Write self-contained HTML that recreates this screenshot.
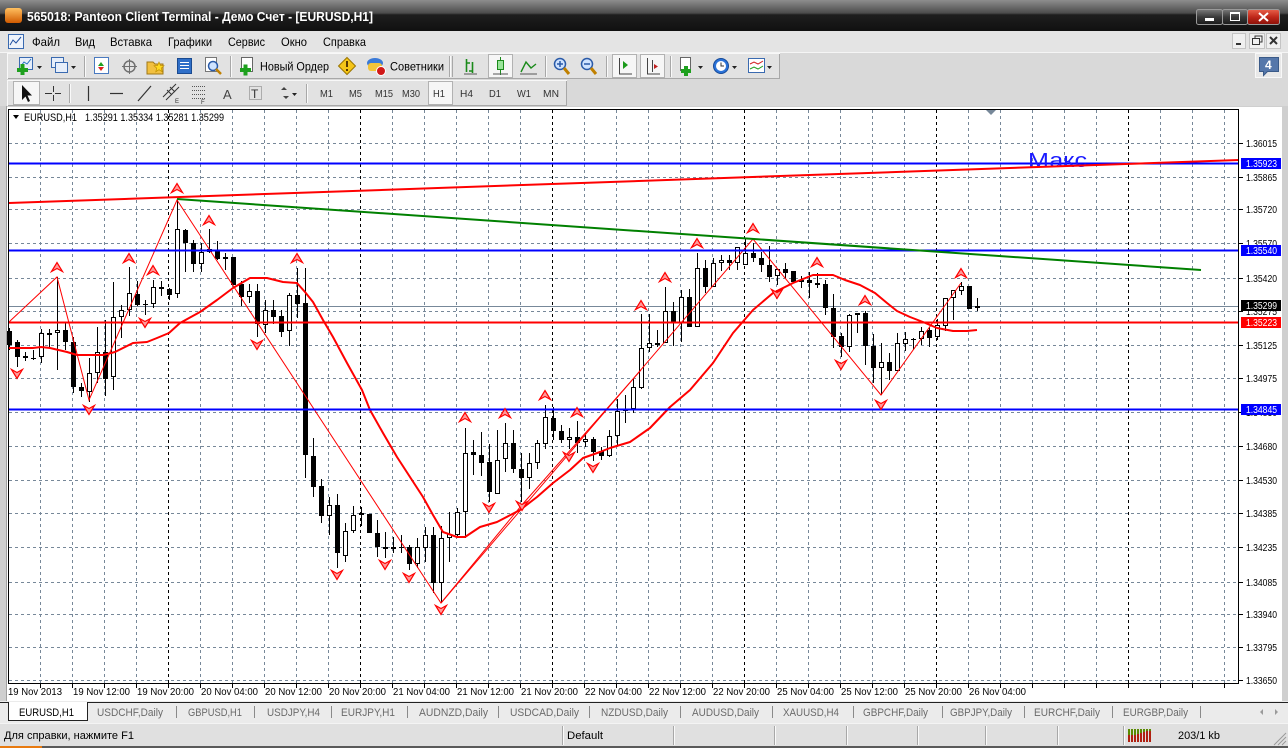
<!DOCTYPE html>
<html><head><meta charset="utf-8"><title>MT4 EURUSD,H1</title>
<style>
html,body{margin:0;padding:0;background:#dcdcdc;overflow:hidden;width:1288px;height:748px}
svg{display:block}
text{font-family:"Liberation Sans","Noto Sans CJK SC",sans-serif}
</style></head><body>
<svg width="1288" height="748" viewBox="0 0 1288 748" xmlns="http://www.w3.org/2000/svg">
<defs>
 <linearGradient id="tbar" x1="0" y1="0" x2="0" y2="1">
  <stop offset="0" stop-color="#8e8e8e"/><stop offset="0.42" stop-color="#4c4c4c"/>
  <stop offset="0.48" stop-color="#1e1e1e"/><stop offset="1" stop-color="#101010"/>
 </linearGradient>
 <linearGradient id="btn" x1="0" y1="0" x2="0" y2="1">
  <stop offset="0" stop-color="#7a7a7a"/><stop offset="0.5" stop-color="#3a3a3a"/><stop offset="1" stop-color="#1a1a1a"/>
 </linearGradient>
 <linearGradient id="btnr" x1="0" y1="0" x2="0" y2="1">
  <stop offset="0" stop-color="#e8604a"/><stop offset="0.5" stop-color="#c0281a"/><stop offset="1" stop-color="#8a1008"/>
 </linearGradient>
 <linearGradient id="ico" x1="0" y1="0" x2="0" y2="1">
  <stop offset="0" stop-color="#ffc060"/><stop offset="1" stop-color="#d05a00"/>
 </linearGradient>
 <path id="au" d="M-5.5 4.5L0-4.5L5.5 4.5L0 1.5Z" fill="#ff9a9a" stroke="#ff0000" stroke-width="1.2" stroke-linejoin="miter"/>
 <path id="ad" d="M-5.5-4.5L0 4.5L5.5-4.5L0-1.5Z" fill="#ff9a9a" stroke="#ff0000" stroke-width="1.2" stroke-linejoin="miter"/>
</defs>

<!-- Title bar -->
<rect x="0" y="0" width="1288" height="31" fill="url(#tbar)"/>
<rect x="5" y="8" width="17" height="15" rx="3" fill="url(#ico)"/>
<text x="27" y="21" font-size="12.5" font-weight="bold" fill="#ffffff" textLength="346" lengthAdjust="spacingAndGlyphs">565018: Panteon Client Terminal - Демо Счет - [EURUSD,H1]</text>
<rect x="1196.5" y="9.5" width="26" height="15" rx="2" fill="url(#btn)" stroke="#9a9a9a"/>
<rect x="1205" y="18" width="9" height="3" fill="#fff"/>
<rect x="1222.5" y="9.5" width="25" height="15" rx="2" fill="url(#btn)" stroke="#9a9a9a"/>
<rect x="1230.5" y="12.5" width="9" height="8" fill="none" stroke="#fff"/>
<rect x="1230" y="12" width="10" height="2" fill="#fff"/>
<rect x="1247.5" y="9.5" width="32" height="15" rx="2" fill="url(#btnr)" stroke="#9a9a9a"/>
<path d="M1259 13L1268 21M1268 13L1259 21" stroke="#fff" stroke-width="2"/>

<!-- Menu bar -->
<rect x="0" y="31" width="1288" height="21" fill="#e4e4e4"/>
<rect x="8.5" y="34.5" width="15" height="14" fill="#eef3fb" stroke="#3a6ab0"/>
<path d="M10 45L13 40L16 43L21 37" stroke="#2050a0" fill="none"/>
<g font-size="12" fill="#000">
<text x="32" y="46" textLength="28" lengthAdjust="spacingAndGlyphs">Файл</text>
<text x="75" y="46" textLength="20" lengthAdjust="spacingAndGlyphs">Вид</text>
<text x="110" y="46" textLength="42" lengthAdjust="spacingAndGlyphs">Вставка</text>
<text x="168" y="46" textLength="44" lengthAdjust="spacingAndGlyphs">Графики</text>
<text x="228" y="46" textLength="37" lengthAdjust="spacingAndGlyphs">Сервис</text>
<text x="281" y="46" textLength="26" lengthAdjust="spacingAndGlyphs">Окно</text>
<text x="323" y="46" textLength="43" lengthAdjust="spacingAndGlyphs">Справка</text>
</g>
<rect x="1232.5" y="33.5" width="13" height="15" fill="#f0f0f0" stroke="#c4c4c4"/>
<rect x="1236" y="43" width="5" height="2" fill="#333"/>
<rect x="1249.5" y="33.5" width="15" height="15" fill="#f0f0f0" stroke="#c4c4c4"/>
<rect x="1252.5" y="38.5" width="7" height="6" fill="none" stroke="#333"/>
<path d="M1255 38V36H1262V42H1260" fill="none" stroke="#333"/>
<rect x="1266.5" y="33.5" width="14" height="15" fill="#f0f0f0" stroke="#c4c4c4"/>
<path d="M1270 37L1277 44M1277 37L1270 44" stroke="#333" stroke-width="2"/>

<!-- Toolbars -->
<rect x="0" y="52" width="1288" height="54" fill="#d9d9d9"/>
<line x1="0" y1="52.5" x2="1288" y2="52.5" stroke="#f5f5f5"/>
<rect x="7.5" y="53.5" width="772" height="25" fill="#e2e2e2" stroke="#f8f8f8"/>
<path d="M8 78.5H780M779.5 54V79" stroke="#a8a8a8" fill="none"/>
<rect x="7.5" y="80.5" width="559" height="25" fill="#e2e2e2" stroke="#f8f8f8"/>
<path d="M8 105.5H567M566.5 81V106" stroke="#a8a8a8" fill="none"/>
<rect x="1255.5" y="53.5" width="26" height="24" fill="#e8e8e8" stroke="#f8f8f8"/>

<!-- toolbar 1 icons -->
<g>
 <rect x="19.5" y="57.5" width="13" height="12" fill="#e6eefa" stroke="#3a6ab0"/>
 <path d="M21 66L24 62L27 64L31 59" stroke="#2070c0" fill="none"/>
 <path d="M17 70H28M22.5 64V75" stroke="#1ea01e" stroke-width="4" fill="none"/>
 <path d="M37 66h5l-2.5 3z" fill="#222"/>
 <rect x="51.5" y="57.5" width="12" height="10" fill="#e6eefa" stroke="#3a6ab0"/>
 <rect x="55.5" y="62.5" width="12" height="10" fill="#e6eefa" stroke="#3a6ab0"/>
 <path d="M71 66h5l-2.5 3z" fill="#222"/>
 <path d="M84.5 56V77" stroke="#a8a8a8"/><path d="M85.5 56V77" stroke="#fafafa"/>
 <rect x="94.5" y="57.5" width="14" height="16" fill="#fff" stroke="#4a7ac0"/>
 <path d="M98 66l3-4 3 4z" fill="#20a020"/><path d="M98 67l3 4 3-4z" fill="#e02020"/>
 <circle cx="129.5" cy="66.5" r="5.5" fill="none" stroke="#707070" stroke-width="1.5"/>
 <path d="M122 66.5H137M129.5 59V74" stroke="#707070" fill="none"/>
 <path d="M147 62h6l2 2h8v10h-16z" fill="#f2c040" stroke="#a07818"/>
 <path d="M159 62l1.5 3.5 3.5.3-2.7 2.3.9 3.6-3.2-2-3.2 2 .9-3.6-2.7-2.3 3.5-.3z" fill="#ffd820" stroke="#c09000" stroke-width=".7"/>
 <rect x="177.5" y="58.5" width="14" height="15" fill="#2f6fc8" stroke="#1a4a90"/>
 <path d="M180 62.5h9M180 65.5h9M180 68.5h9" stroke="#fff" fill="none"/>
 <rect x="205.5" y="57.5" width="11" height="14" fill="#fff" stroke="#777"/>
 <circle cx="213" cy="66" r="4.5" fill="#cfe3ff" stroke="#2a5aa8" stroke-width="1.5"/>
 <path d="M216 69L221 74" stroke="#c08000" stroke-width="2.5"/>
 <path d="M230.5 56V77" stroke="#a8a8a8"/><path d="M231.5 56V77" stroke="#fafafa"/>
 <rect x="241.5" y="57.5" width="11" height="14" fill="#fff" stroke="#666"/>
 <path d="M240 70H251M245.5 64.5V75.5" stroke="#1ea01e" stroke-width="4" fill="none"/>
 <text x="260" y="70.5" font-size="12" fill="#000" textLength="69" lengthAdjust="spacingAndGlyphs">Новый Ордер</text>
 <path d="M347 57.5L355.5 66L347 74.5L338.5 66Z" fill="#f5c518" stroke="#9a7400"/>
 <rect x="346" y="61" width="2" height="6" fill="#5a3a00"/><rect x="346" y="69" width="2" height="2" fill="#5a3a00"/>
 <ellipse cx="375" cy="63" rx="8" ry="5" fill="#3a7ad8"/>
 <rect x="368" y="63" width="14" height="8" rx="3" fill="#f3c43a"/>
 <circle cx="381" cy="71" r="4.5" fill="#d01818" stroke="#fff"/>
 <text x="390" y="70.5" font-size="12" fill="#000" textLength="54" lengthAdjust="spacingAndGlyphs">Советники</text>
 <path d="M449.5 56V77M452.5 56V77" stroke="#a8a8a8"/><path d="M450.5 56V77" stroke="#fafafa"/>
 <path d="M466.5 59V72M466.5 63H470M472.5 62V73M469 71H472.5" stroke="#1a8a1a" stroke-width="1.6" fill="none"/>
 <path d="M464 74H477" stroke="#555" fill="none"/>
 <rect x="488.5" y="54.5" width="24" height="23" fill="#f6f6f6" stroke="#b2b2b2"/>
 <path d="M500.5 57V75" stroke="#1a8a1a" fill="none"/><rect x="497.5" y="60.5" width="6" height="9" fill="#9ae59a" stroke="#1a8a1a"/>
 <path d="M493 74H508" stroke="#555" fill="none"/>
 <path d="M521 72L526 62L531 68L536 64" stroke="#1a8a1a" stroke-width="1.4" fill="none"/>
 <path d="M520 74H537" stroke="#555" fill="none"/>
 <path d="M545.5 56V77" stroke="#a8a8a8"/><path d="M546.5 56V77" stroke="#fafafa"/>
 <circle cx="560" cy="64" r="5.5" fill="#cfe3ff" stroke="#2a5aa8" stroke-width="1.5"/>
 <path d="M557 64h6M560 61v6" stroke="#2a5aa8" stroke-width="1.5" fill="none"/>
 <path d="M564 68L569 74" stroke="#c08000" stroke-width="3"/>
 <circle cx="587" cy="64" r="5.5" fill="#cfe3ff" stroke="#2a5aa8" stroke-width="1.5"/>
 <path d="M584 64h6" stroke="#2a5aa8" stroke-width="1.5" fill="none"/>
 <path d="M591 68L596 74" stroke="#c08000" stroke-width="3"/>
 <path d="M606.5 56V77" stroke="#a8a8a8"/><path d="M607.5 56V77" stroke="#fafafa"/>
 <rect x="612.5" y="54.5" width="24" height="23" fill="#f6f6f6" stroke="#b2b2b2"/>
 <path d="M619.5 58V74H632" stroke="#444" fill="none"/><path d="M623 61l5 4-5 4z" fill="#1a9a1a"/>
 <rect x="640.5" y="54.5" width="24" height="23" fill="#f6f6f6" stroke="#b2b2b2"/>
 <path d="M647.5 58V74H660M652.5 60V72" stroke="#444" fill="none"/><path d="M654 64l4 2.5-4 2.5z" fill="#c02020"/>
 <path d="M670.5 56V77" stroke="#a8a8a8"/><path d="M671.5 56V77" stroke="#fafafa"/>
 <rect x="680.5" y="57.5" width="10" height="13" fill="#fff" stroke="#666"/>
 <path d="M681 71H691M686 66V76" stroke="#1ea01e" stroke-width="4" fill="none"/>
 <path d="M698 66h5l-2.5 3z" fill="#222"/>
 <circle cx="721" cy="66" r="7.5" fill="#2a72d8" stroke="#164a98"/>
 <circle cx="721" cy="66" r="5" fill="#fff"/>
 <path d="M721 62.5V66H724" stroke="#333" fill="none"/>
 <path d="M732 66h5l-2.5 3z" fill="#222"/>
 <rect x="748.5" y="58.5" width="16" height="14" fill="#fff" stroke="#3a6ab0"/>
 <path d="M750 64L754 62L758 64L763 61" stroke="#d02020" fill="none"/>
 <path d="M750 69L754 67L758 69L763 66" stroke="#20a020" fill="none"/>
 <path d="M767 66h5l-2.5 3z" fill="#222"/>
 <path d="M1259.5 57.5h19v14h-11l-4 4v-4h-4z" fill="#5577aa" stroke="#3a5a88"/>
 <text x="1265" y="69" font-size="12" font-weight="bold" fill="#fff">4</text>
</g>

<!-- toolbar 2 icons -->
<g>
 <rect x="13.5" y="81.5" width="26" height="23" fill="#f6f6f6" stroke="#b2b2b2"/>
 <path d="M22 85V100L25.5 96.5L28 102L30 101L27.5 95.5H32Z" fill="#111"/>
 <path d="M45 93.5H61M53.5 86V101" stroke="#333" fill="none"/>
 <rect x="52" y="92" width="3" height="3" fill="#e2e2e2"/>
 <path d="M69.5 84V103" stroke="#a8a8a8"/><path d="M70.5 84V103" stroke="#fafafa"/>
 <path d="M88.5 86V101" stroke="#333" stroke-width="1.2"/>
 <path d="M110 93.5H123" stroke="#333" stroke-width="1.2"/>
 <path d="M138 101L151 86" stroke="#333" stroke-width="1.2"/>
 <path d="M163 97L176 84M166 100L179 87M167 90L172 95M170 87L175 92" stroke="#333" fill="none"/>
 <text x="175" y="103" font-size="6" fill="#333">E</text>
 <path d="M192 86.5H206M192 90.5H206M192 94.5H206M192 98.5H206" stroke="#555" stroke-dasharray="1,1" fill="none"/>
 <text x="201" y="104" font-size="6" fill="#333">F</text>
 <text x="223" y="99" font-size="13" fill="#444">A</text>
 <rect x="249.5" y="86.5" width="12" height="13" fill="none" stroke="#777" stroke-dasharray="1,1"/>
 <text x="251" y="98" font-size="12" fill="#333">T</text>
 <path d="M281 90l3-3 3 3zM283 96l3 3 3-3z" fill="#444"/>
 <path d="M292 93h5l-2.5 3z" fill="#222"/>
 <path d="M306.5 84V103" stroke="#a8a8a8"/><path d="M307.5 84V103" stroke="#fafafa"/>
 <rect x="428.5" y="81.5" width="24" height="23" fill="#f6f6f6" stroke="#b2b2b2"/>
 <g font-size="10.5" fill="#333">
  <text x="320" y="97" textLength="13" lengthAdjust="spacingAndGlyphs">M1</text>
  <text x="349" y="97" textLength="13" lengthAdjust="spacingAndGlyphs">M5</text>
  <text x="375" y="97" textLength="18" lengthAdjust="spacingAndGlyphs">M15</text>
  <text x="402" y="97" textLength="18" lengthAdjust="spacingAndGlyphs">M30</text>
  <text x="433" y="97" textLength="12" lengthAdjust="spacingAndGlyphs">H1</text>
  <text x="460" y="97" textLength="13" lengthAdjust="spacingAndGlyphs">H4</text>
  <text x="489" y="97" textLength="12" lengthAdjust="spacingAndGlyphs">D1</text>
  <text x="517" y="97" textLength="14" lengthAdjust="spacingAndGlyphs">W1</text>
  <text x="543" y="97" textLength="16" lengthAdjust="spacingAndGlyphs">MN</text>
 </g>
</g>

<!-- Chart window -->
<rect x="0" y="106" width="1288" height="596" fill="#cfcfcf"/>
<path d="M6.5 106V702" stroke="#a0a0a0"/>
<rect x="7" y="107" width="1275" height="594" fill="#ffffff"/>

<!-- grid -->
<g fill="none" stroke-width="1" shape-rendering="crispEdges">
<path stroke="#778899" stroke-dasharray="3,3" d="M9 143.5H1239M9 177.5H1239M9 209.5H1239M9 243.5H1239M9 278.5H1239M9 311.5H1239M9 345.5H1239M9 378.5H1239M9 412.5H1239M9 446.5H1239M9 480.5H1239M9 513.5H1239M9 547.5H1239M9 582.5H1239M9 614.5H1239M9 647.5H1239M9 680.5H1239"/>
<path stroke="#778899" stroke-dasharray="3,3" d="M40.5 110V683M72.5 110V683M104.5 110V683M136.5 110V683M200.5 110V683M232.5 110V683M264.5 110V683M296.5 110V683M328.5 110V683M392.5 110V683M424.5 110V683M456.5 110V683M488.5 110V683M520.5 110V683M584.5 110V683M616.5 110V683M648.5 110V683M680.5 110V683M712.5 110V683M776.5 110V683M808.5 110V683M840.5 110V683M872.5 110V683M904.5 110V683M968.5 110V683M1000.5 110V683M1032.5 110V683M1064.5 110V683M1096.5 110V683M1160.5 110V683M1192.5 110V683M1224.5 110V683"/>
<path stroke="#000" stroke-dasharray="3,3" d="M168.5 110V683M360.5 110V683M552.5 110V683M744.5 110V683M936.5 110V683M1128.5 110V683"/>
</g>

<!-- bid line -->
<path d="M9 306.5H1239" stroke="#778899" stroke-width="1" shape-rendering="crispEdges"/>

<!-- candles: wicks -->
<path shape-rendering="crispEdges" stroke="#000" stroke-width="1" fill="none" d="M9.5 328V350M17.5 340V367M25.5 352V361M33.5 350V360M41.5 329V363M49.5 329V347M57.5 277V370M65.5 322V350M73.5 337V393M81.5 383V397M89.5 358V402M97.5 327V383M105.5 320V396M113.5 282V390M121.5 305V338M129.5 267V316M137.5 281V306M145.5 300V315M153.5 280V308M161.5 281V296M169.5 288V300M177.5 200V298M185.5 229V272M193.5 240V272M201.5 243V272M209.5 229V253M217.5 241V260M225.5 253V270M233.5 257V285M241.5 281V306M249.5 284V303M257.5 284V337M265.5 300V333M273.5 300V324M281.5 310V337M289.5 293V346M297.5 268V318M305.5 268V478M313.5 438V497M321.5 479V523M329.5 497V535M337.5 494V568M345.5 523V562M353.5 506V533M361.5 507V526M369.5 514V533M377.5 520V557M385.5 532V558M393.5 537V553M401.5 535V553M409.5 545V570M417.5 538V568M425.5 527V562M433.5 527V593M441.5 526V603M449.5 512V562M457.5 508V538M465.5 428V538M473.5 440V475M481.5 432V476M489.5 444V502M497.5 430V494M505.5 423V472M513.5 430V473M521.5 453V502M529.5 453V489M537.5 440V469M545.5 405V449M553.5 407V440M561.5 425V443M569.5 428V449M577.5 421V453M585.5 433V447M593.5 437V461M601.5 447V460M609.5 430V457M617.5 399V445M625.5 395V423M633.5 378V413M641.5 314V389M649.5 314V352M657.5 330V347M665.5 287V343M673.5 302V346M681.5 290V342M689.5 289V327M697.5 253V327M705.5 260V293M713.5 258V287M721.5 255V271M729.5 255V270M737.5 247V270M745.5 239V265M753.5 243V262M761.5 252V272M769.5 246V282M777.5 269V285M785.5 263V278M793.5 271V282M801.5 276V288M809.5 272V298M817.5 273V288M825.5 280V315M833.5 294V348M841.5 333V357M849.5 314V352M857.5 313V333M865.5 311V365M873.5 334V383M881.5 343V395M889.5 353V380M897.5 333V371M905.5 332V351M913.5 338V350M921.5 327V345M929.5 327V347M937.5 319V340M945.5 298V331M953.5 290V320M961.5 282V295M969.5 286V309M977.5 298V311"/>
<!-- doji -->
<path shape-rendering="crispEdges" stroke="#000" stroke-width="1" fill="none" d="M31 358.5h5M143 304.5h5M399 547.5h5M911 339.5h5"/>
<!-- bear bodies -->
<path shape-rendering="crispEdges" fill="#000" d="M7 331h5v14h-5zM15 342h5v15h-5zM23 356h5v2h-5zM47 333h5v2h-5zM63 330h5v12h-5zM71 342h5v45h-5zM79 387h5v4h-5zM103 352h5v27h-5zM135 294h5v11h-5zM159 287h5v2h-5zM167 289h5v6h-5zM183 230h5v13h-5zM191 243h5v21h-5zM215 250h5v9h-5zM231 257h5v28h-5zM239 284h5v13h-5zM255 291h5v33h-5zM271 310h5v7h-5zM279 316h5v16h-5zM295 295h5v9h-5zM303 303h5v152h-5zM311 456h5v31h-5zM319 486h5v30h-5zM335 505h5v48h-5zM367 514h5v19h-5zM375 533h5v14h-5zM383 547h5v2h-5zM407 547h5v17h-5zM431 535h5v48h-5zM471 452h5v3h-5zM479 455h5v8h-5zM487 462h5v30h-5zM511 443h5v26h-5zM519 469h5v9h-5zM551 418h5v13h-5zM559 431h5v9h-5zM575 437h5v6h-5zM591 439h5v13h-5zM599 451h5v5h-5zM671 311h5v12h-5zM687 297h5v30h-5zM703 268h5v19h-5zM727 260h5v3h-5zM751 253h5v5h-5zM759 258h5v7h-5zM767 265h5v12h-5zM783 269h5v4h-5zM791 271h5v11h-5zM807 280h5v3h-5zM815 283h5v2h-5zM823 284h5v24h-5zM831 308h5v29h-5zM839 336h5v11h-5zM863 313h5v33h-5zM871 346h5v22h-5zM887 362h5v9h-5zM927 330h5v8h-5zM967 286h5v23h-5z"/>
<!-- bull bodies -->
<path shape-rendering="crispEdges" fill="#fff" stroke="#000" stroke-width="1" d="M39.5 333.5h4v23h-4zM55.5 330.5h4v2h-4zM87.5 373.5h4v18h-4zM95.5 352.5h4v20h-4zM111.5 317.5h4v59h-4zM119.5 310.5h4v6h-4zM127.5 293.5h4v16h-4zM151.5 287.5h4v16h-4zM175.5 229.5h4v64h-4zM199.5 252.5h4v11h-4zM207.5 249.5h4v2h-4zM223.5 257.5h4v1h-4zM247.5 291.5h4v5h-4zM263.5 310.5h4v14h-4zM287.5 295.5h4v35h-4zM327.5 505.5h4v10h-4zM343.5 531.5h4v24h-4zM351.5 515.5h4v15h-4zM359.5 513.5h4v1h-4zM391.5 547.5h4v1h-4zM415.5 547.5h4v16h-4zM423.5 535.5h4v12h-4zM439.5 538.5h4v44h-4zM447.5 534.5h4v3h-4zM455.5 512.5h4v22h-4zM463.5 453.5h4v58h-4zM495.5 460.5h4v33h-4zM503.5 443.5h4v15h-4zM527.5 463.5h4v14h-4zM535.5 443.5h4v19h-4zM543.5 417.5h4v26h-4zM567.5 437.5h4v2h-4zM583.5 439.5h4v2h-4zM607.5 436.5h4v19h-4zM615.5 411.5h4v24h-4zM623.5 409.5h4v1h-4zM631.5 387.5h4v21h-4zM639.5 348.5h4v39h-4zM647.5 343.5h4v4h-4zM655.5 343.5h4v1h-4zM663.5 311.5h4v31h-4zM679.5 297.5h4v25h-4zM695.5 268.5h4v58h-4zM711.5 263.5h4v23h-4zM719.5 260.5h4v2h-4zM735.5 247.5h4v15h-4zM743.5 253.5h4v11h-4zM775.5 269.5h4v6h-4zM799.5 280.5h4v1h-4zM847.5 315.5h4v31h-4zM855.5 313.5h4v1h-4zM879.5 362.5h4v5h-4zM895.5 343.5h4v27h-4zM903.5 339.5h4v4h-4zM919.5 331.5h4v7h-4zM935.5 325.5h4v11h-4zM943.5 298.5h4v27h-4zM951.5 290.5h4v7h-4zM959.5 286.5h4v4h-4zM975.5 306.5h4v1h-4z"/>

<!-- Moving average -->
<polyline fill="none" stroke="#ff0000" stroke-width="2" stroke-linejoin="round" points="9,348 33,348 41,347 50,348 67,352 77,355 103,355 115,352 133,343 147,342 157,338 169,333 180,323 200,312 217,300 233,288 250,278 267,278 283,282 297,283 305,292 313,302 323,320 333,337 347,363 362,390 370,410 383,433 397,457 410,477 423,497 433,515 443,532 457,537 465,537 480,527 497,522 520,510 537,497 553,483 570,470 583,458 600,452 610,448 630,442 650,428 670,407 690,390 713,363 733,333 753,310 773,293 793,283 813,275 833,275 845,280 860,285 875,293 887,303 897,311 910,317 923,322 937,328 953,331 967,331 977,330"/>

<!-- ZigZag -->
<polyline fill="none" stroke="#ff0000" stroke-width="1" points="9,322 57,277 89,400 177,200 441,603 753,239 881,395 961,283"/>
<polyline fill="none" stroke="#ff0000" stroke-width="1" points="441,603 521,506 641,370"/>

<!-- Horizontal lines -->
<g shape-rendering="crispEdges">
<path d="M9 163.5H1239M9 250.5H1239M9 409.5H1239" stroke="#0000ff" stroke-width="2" fill="none"/>
<path d="M9 322.5H1239" stroke="#ff0000" stroke-width="2" fill="none"/>
</g>

<!-- "Макс" label -->
<text x="1028" y="167" font-size="20" fill="#1a1aff" textLength="59" lengthAdjust="spacingAndGlyphs">Макс</text>

<!-- Trend lines -->
<line x1="9" y1="203" x2="1239" y2="160" stroke="#ff0000" stroke-width="2"/>
<line x1="177" y1="199" x2="1201" y2="270" stroke="#008000" stroke-width="2"/>

<!-- Fractal arrows -->
<g>
<use href="#au" x="57" y="267"/><use href="#au" x="129" y="258"/><use href="#au" x="153" y="270"/>
<use href="#au" x="177" y="188"/><use href="#au" x="209" y="220"/><use href="#au" x="297" y="258"/>
<use href="#au" x="465" y="417"/><use href="#au" x="505" y="413"/><use href="#au" x="545" y="395"/>
<use href="#au" x="577" y="412"/><use href="#au" x="641" y="305"/><use href="#au" x="665" y="277"/>
<use href="#au" x="697" y="243"/><use href="#au" x="753" y="228"/><use href="#au" x="817" y="262"/>
<use href="#au" x="865" y="300"/><use href="#au" x="961" y="273"/>
<use href="#ad" x="17" y="374"/><use href="#ad" x="89" y="410"/><use href="#ad" x="145" y="323"/>
<use href="#ad" x="257" y="345"/><use href="#ad" x="337" y="575"/><use href="#ad" x="385" y="565"/>
<use href="#ad" x="409" y="578"/><use href="#ad" x="441" y="610"/><use href="#ad" x="489" y="508"/>
<use href="#ad" x="522" y="506"/><use href="#ad" x="569" y="457"/><use href="#ad" x="593" y="468"/>
<use href="#ad" x="777" y="294"/><use href="#ad" x="841" y="365"/><use href="#ad" x="881" y="405"/>
</g>

<!-- Chart frame -->
<rect x="8.5" y="109.5" width="1230" height="574" fill="none" stroke="#000" stroke-width="1" shape-rendering="crispEdges"/>
<path d="M986 110H996L991 115Z" fill="#778899"/>

<!-- header -->
<path d="M13 115H19L16 119Z" fill="#000"/>
<text x="24" y="121" font-size="11" fill="#000" textLength="53" lengthAdjust="spacingAndGlyphs">EURUSD,H1</text>
<text x="85" y="121" font-size="11" fill="#000" textLength="139" lengthAdjust="spacingAndGlyphs">1.35291 1.35334 1.35281 1.35299</text>

<!-- price axis ticks -->
<path shape-rendering="crispEdges" stroke="#000" fill="none" d="M1239 143.5H1243M1239 177.5H1243M1239 209.5H1243M1239 243.5H1243M1239 278.5H1243M1239 311.5H1243M1239 345.5H1243M1239 378.5H1243M1239 412.5H1243M1239 446.5H1243M1239 480.5H1243M1239 513.5H1243M1239 547.5H1243M1239 582.5H1243M1239 614.5H1243M1239 647.5H1243M1239 680.5H1243"/>
<g font-size="10" fill="#000">
<text x="1246" y="147" textLength="31" lengthAdjust="spacingAndGlyphs">1.36015</text>
<text x="1246" y="181" textLength="31" lengthAdjust="spacingAndGlyphs">1.35865</text>
<text x="1246" y="213" textLength="31" lengthAdjust="spacingAndGlyphs">1.35720</text>
<text x="1246" y="247" textLength="31" lengthAdjust="spacingAndGlyphs">1.35570</text>
<text x="1246" y="282" textLength="31" lengthAdjust="spacingAndGlyphs">1.35420</text>
<text x="1246" y="315" textLength="31" lengthAdjust="spacingAndGlyphs">1.35275</text>
<text x="1246" y="349" textLength="31" lengthAdjust="spacingAndGlyphs">1.35125</text>
<text x="1246" y="382" textLength="31" lengthAdjust="spacingAndGlyphs">1.34975</text>
<text x="1246" y="416" textLength="31" lengthAdjust="spacingAndGlyphs">1.34830</text>
<text x="1246" y="450" textLength="31" lengthAdjust="spacingAndGlyphs">1.34680</text>
<text x="1246" y="484" textLength="31" lengthAdjust="spacingAndGlyphs">1.34530</text>
<text x="1246" y="517" textLength="31" lengthAdjust="spacingAndGlyphs">1.34385</text>
<text x="1246" y="551" textLength="31" lengthAdjust="spacingAndGlyphs">1.34235</text>
<text x="1246" y="586" textLength="31" lengthAdjust="spacingAndGlyphs">1.34085</text>
<text x="1246" y="618" textLength="31" lengthAdjust="spacingAndGlyphs">1.33940</text>
<text x="1246" y="651" textLength="31" lengthAdjust="spacingAndGlyphs">1.33795</text>
<text x="1246" y="684" textLength="31" lengthAdjust="spacingAndGlyphs">1.33650</text>
</g>
<!-- price boxes -->
<rect x="1241" y="158" width="40" height="11" fill="#0000ff"/>
<rect x="1241" y="245" width="40" height="11" fill="#0000ff"/>
<rect x="1241" y="300" width="40" height="11" fill="#000000"/>
<rect x="1241" y="317" width="40" height="11" fill="#ff0000"/>
<rect x="1241" y="404" width="40" height="11" fill="#0000ff"/>
<g font-size="10" fill="#fff">
<text x="1246" y="167" textLength="31" lengthAdjust="spacingAndGlyphs">1.35923</text>
<text x="1246" y="254" textLength="31" lengthAdjust="spacingAndGlyphs">1.35540</text>
<text x="1246" y="309" textLength="31" lengthAdjust="spacingAndGlyphs">1.35299</text>
<text x="1246" y="326" textLength="31" lengthAdjust="spacingAndGlyphs">1.35223</text>
<text x="1246" y="413" textLength="31" lengthAdjust="spacingAndGlyphs">1.34845</text>
</g>

<!-- time axis -->
<path shape-rendering="crispEdges" stroke="#000" fill="none" d="M40.5 684V688M72.5 684V688M104.5 684V688M136.5 684V688M168.5 684V688M200.5 684V688M232.5 684V688M264.5 684V688M296.5 684V688M328.5 684V688M360.5 684V688M392.5 684V688M424.5 684V688M456.5 684V688M488.5 684V688M520.5 684V688M552.5 684V688M584.5 684V688M616.5 684V688M648.5 684V688M680.5 684V688M712.5 684V688M744.5 684V688M776.5 684V688M808.5 684V688M840.5 684V688M872.5 684V688M904.5 684V688M936.5 684V688M968.5 684V688M1000.5 684V688M1032.5 684V688M1064.5 684V688M1096.5 684V688M1128.5 684V688M1160.5 684V688M1192.5 684V688M1224.5 684V688"/>
<g font-size="10" fill="#000">
<text x="8" y="695" textLength="54" lengthAdjust="spacingAndGlyphs">19 Nov 2013</text>
<text x="73" y="695" textLength="57" lengthAdjust="spacingAndGlyphs">19 Nov 12:00</text>
<text x="137" y="695" textLength="57" lengthAdjust="spacingAndGlyphs">19 Nov 20:00</text>
<text x="201" y="695" textLength="57" lengthAdjust="spacingAndGlyphs">20 Nov 04:00</text>
<text x="265" y="695" textLength="57" lengthAdjust="spacingAndGlyphs">20 Nov 12:00</text>
<text x="329" y="695" textLength="57" lengthAdjust="spacingAndGlyphs">20 Nov 20:00</text>
<text x="393" y="695" textLength="57" lengthAdjust="spacingAndGlyphs">21 Nov 04:00</text>
<text x="457" y="695" textLength="57" lengthAdjust="spacingAndGlyphs">21 Nov 12:00</text>
<text x="521" y="695" textLength="57" lengthAdjust="spacingAndGlyphs">21 Nov 20:00</text>
<text x="585" y="695" textLength="57" lengthAdjust="spacingAndGlyphs">22 Nov 04:00</text>
<text x="649" y="695" textLength="57" lengthAdjust="spacingAndGlyphs">22 Nov 12:00</text>
<text x="713" y="695" textLength="57" lengthAdjust="spacingAndGlyphs">22 Nov 20:00</text>
<text x="777" y="695" textLength="57" lengthAdjust="spacingAndGlyphs">25 Nov 04:00</text>
<text x="841" y="695" textLength="57" lengthAdjust="spacingAndGlyphs">25 Nov 12:00</text>
<text x="905" y="695" textLength="57" lengthAdjust="spacingAndGlyphs">25 Nov 20:00</text>
<text x="969" y="695" textLength="57" lengthAdjust="spacingAndGlyphs">26 Nov 04:00</text>
</g>

<!-- Tabs -->
<rect x="0" y="701" width="1288" height="22" fill="#ebebeb"/>
<path d="M0 702.5H1288" stroke="#222" fill="none"/>
<path d="M8.5 702V720.5H87.5V702" fill="#ffffff" stroke="#222"/>
<rect x="9" y="703" width="78" height="17" fill="#ffffff"/>
<text x="19" y="716" font-size="11" fill="#000" textLength="55" lengthAdjust="spacingAndGlyphs">EURUSD,H1</text>
<g font-size="11" fill="#6a6a6a">
<text x="97" y="716" textLength="66" lengthAdjust="spacingAndGlyphs">USDCHF,Daily</text>
<text x="188" y="716" textLength="54" lengthAdjust="spacingAndGlyphs">GBPUSD,H1</text>
<text x="267" y="716" textLength="53" lengthAdjust="spacingAndGlyphs">USDJPY,H4</text>
<text x="341" y="716" textLength="54" lengthAdjust="spacingAndGlyphs">EURJPY,H1</text>
<text x="419" y="716" textLength="69" lengthAdjust="spacingAndGlyphs">AUDNZD,Daily</text>
<text x="510" y="716" textLength="69" lengthAdjust="spacingAndGlyphs">USDCAD,Daily</text>
<text x="601" y="716" textLength="67" lengthAdjust="spacingAndGlyphs">NZDUSD,Daily</text>
<text x="692" y="716" textLength="67" lengthAdjust="spacingAndGlyphs">AUDUSD,Daily</text>
<text x="783" y="716" textLength="56" lengthAdjust="spacingAndGlyphs">XAUUSD,H4</text>
<text x="863" y="716" textLength="65" lengthAdjust="spacingAndGlyphs">GBPCHF,Daily</text>
<text x="950" y="716" textLength="62" lengthAdjust="spacingAndGlyphs">GBPJPY,Daily</text>
<text x="1034" y="716" textLength="66" lengthAdjust="spacingAndGlyphs">EURCHF,Daily</text>
<text x="1123" y="716" textLength="65" lengthAdjust="spacingAndGlyphs">EURGBP,Daily</text>
</g>
<path stroke="#8a8a8a" fill="none" d="M176.5 706V718M254.5 706V718M331.5 706V718M407.5 706V718M498.5 706V718M589.5 706V718M680.5 706V718M772.5 706V718M853.5 706V718M942.5 706V718M1024.5 706V718M1112.5 706V718M1200.5 706V718"/>
<path d="M1260 712l3-3v6zM1275 709l3 3-3 3z" fill="#9a9a9a"/>

<!-- Status bar -->
<rect x="0" y="723" width="1288" height="23" fill="#e0e0e0"/>
<path d="M0 723.5H1288" stroke="#f4f4f4" fill="none"/>
<text x="4" y="739" font-size="11" fill="#000" textLength="130" lengthAdjust="spacingAndGlyphs">Для справки, нажмите F1</text>
<text x="567" y="739" font-size="11" fill="#000" textLength="36" lengthAdjust="spacingAndGlyphs">Default</text>
<path stroke="#a8a8a8" fill="none" d="M562.5 726V745M673.5 726V745M774.5 726V745M846.5 726V745M917.5 726V745M985.5 726V745M1057.5 726V745M1123.5 726V745"/>
<path stroke="#fafafa" fill="none" d="M563.5 726V745M674.5 726V745M775.5 726V745M847.5 726V745M918.5 726V745M986.5 726V745M1058.5 726V745M1124.5 726V745"/>
<g shape-rendering="crispEdges" fill="none">
<path stroke="#5a8a00" stroke-width="2" d="M1129 729V735M1132 729V735M1135 729V735M1138 729V734M1141 729V733M1144 729V732M1147 729V731M1150 729V731"/>
<path stroke="#b02010" stroke-width="2" d="M1129 735V742M1132 735V742M1135 735V742M1138 734V742M1141 733V742M1144 732V742M1147 731V742M1150 731V742"/>
</g>
<text x="1178" y="739" font-size="11" fill="#000" textLength="42" lengthAdjust="spacingAndGlyphs">203/1 kb</text>
<path d="M1286 733L1274 745M1286 737L1278 745M1286 741L1282 745" stroke="#9a9a9a" fill="none"/>
<rect x="0" y="746" width="1288" height="2" fill="#5a5a5a"/>
<rect x="0" y="746" width="42" height="2" fill="#e87a10"/>
</svg>
</body></html>
